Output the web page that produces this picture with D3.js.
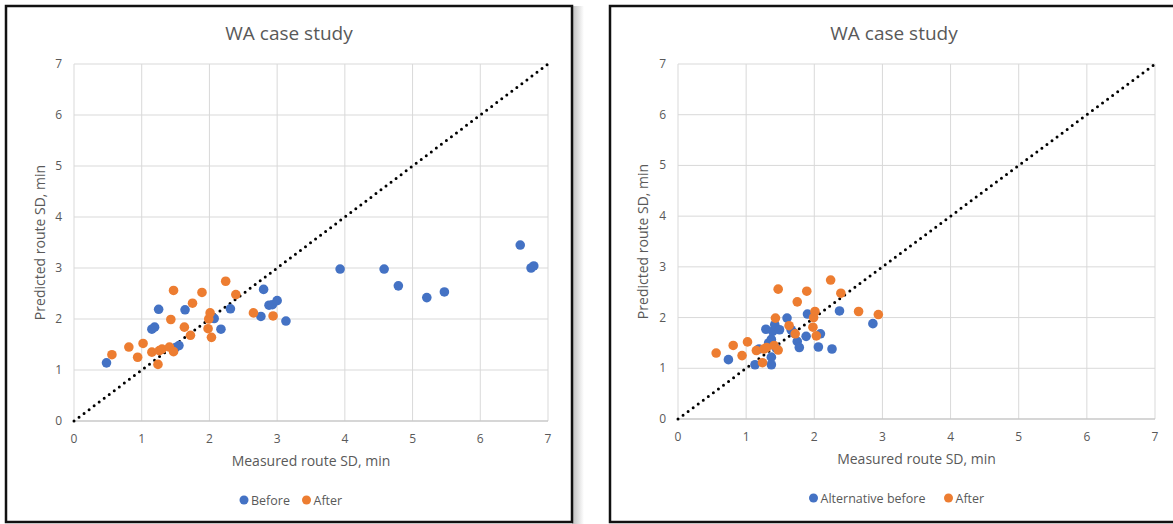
<!DOCTYPE html>
<html>
<head>
<meta charset="utf-8">
<script src="https://cdn.jsdelivr.net/npm/d3@7"></script>
<style>
  body { margin: 0; background: #fff; }
  text { font-family: "Open Sans", sans-serif; fill: #595959; }
</style>
</head>
<body>
<div id="chart"></div>
<script>
// shared "After" series
var afterX = [0.56, 0.81, 0.94, 1.02, 1.15, 1.24, 1.26, 1.30, 1.41, 1.47, 1.43, 1.47, 1.63, 1.72, 1.75, 1.89, 1.98, 1.99, 2.01, 2.03, 2.24, 2.39, 2.65, 2.94];
var afterY = [1.30, 1.45, 1.25, 1.52, 1.35, 1.11, 1.38, 1.41, 1.45, 1.36, 1.99, 2.56, 1.84, 1.68, 2.31, 2.52, 1.81, 2.00, 2.12, 1.64, 2.74, 2.48, 2.12, 2.06];

// left chart "Before"
var beforeX = [0.48, 1.15, 1.19, 1.25, 1.64, 1.50, 1.55, 2.07, 2.17, 2.31, 2.76, 2.80, 2.88, 2.93, 3.00, 3.13, 3.93, 4.58, 4.79, 5.21, 5.47, 6.59, 6.75, 6.79];
var beforeY = [1.14, 1.80, 1.84, 2.19, 2.18, 1.44, 1.48, 2.01, 1.80, 2.20, 2.05, 2.58, 2.27, 2.28, 2.36, 1.96, 2.98, 2.98, 2.65, 2.42, 2.53, 3.45, 3.00, 3.04];

// right chart "Alternative before"
var altX = [0.74, 1.13, 1.19, 1.29, 1.33, 1.37, 1.37, 1.37, 1.39, 1.42, 1.49, 1.44, 1.60, 1.66, 1.70, 1.75, 1.78, 1.88, 1.90, 2.06, 2.09, 2.26, 2.37, 2.86];
var altY = [1.17, 1.07, 1.38, 1.77, 1.50, 1.57, 1.22, 1.07, 1.73, 1.86, 1.76, 1.40, 1.99, 1.76, 1.70, 1.53, 1.41, 1.63, 2.07, 1.42, 1.68, 1.38, 2.13, 1.88];

var ticks = [0, 1, 2, 3, 4, 5, 6, 7];
var diagonal = [0, 7];
var title = "WA case study";
var xTitle = "Measured route SD, min";
var yTitle = "Predicted route SD, min";

var blue = "#4472C4", orange = "#ED7D31";

var svg = d3.select("#chart").append("svg")
    .attr("width", 1173)
    .attr("height", 524);

var defs = svg.append("defs");
var grad = defs.append("linearGradient").attr("id", "shadow");
grad.append("stop").attr("offset", "0%").attr("stop-color", "#bdbdbd");
grad.append("stop").attr("offset", "100%").attr("stop-color", "#fff");

function zip(xs, ys) {
  return xs.map(function(x, i) { return [x, ys[i]]; });
}

function drawPanel(p) {
  // frame
  if (p.shadow) {
    svg.append("rect").attr("x", p.box[2]).attr("y", p.box[1])
      .attr("width", 12).attr("height", p.box[3] - p.box[1] + 4)
      .attr("fill", "url(#shadow)");
  }
  svg.append("rect")
    .attr("x", p.box[0]).attr("y", p.box[1])
    .attr("width", p.box[2] - p.box[0]).attr("height", p.box[3] - p.box[1])
    .attr("fill", "#fff").attr("stroke", "#111").attr("stroke-width", 2.5);

  var x = d3.scaleLinear().domain([0, 7]).range([p.plot[0], p.plot[1]]);
  var y = d3.scaleLinear().domain([0, 7]).range([p.plot[2], p.plot[3]]);
  var g = svg.append("g");

  // grid
  g.selectAll(".vg").data(ticks).enter().append("line")
    .attr("x1", function(d) { return x(d); }).attr("x2", function(d) { return x(d); })
    .attr("y1", y(0)).attr("y2", y(7))
    .attr("stroke", "#d9d9d9").attr("stroke-width", 1);
  g.selectAll(".hg").data(ticks).enter().append("line")
    .attr("x1", x(0)).attr("x2", x(7))
    .attr("y1", function(d) { return y(d); }).attr("y2", function(d) { return y(d); })
    .attr("stroke", function(d) { return d === 0 ? "#c8c8c8" : "#d9d9d9"; })
    .attr("stroke-width", function(d) { return d === 0 ? 1.5 : 1; });

  // tick labels
  g.selectAll(".xt").data(ticks).enter().append("text")
    .attr("x", function(d) { return x(d); }).attr("y", y(0) + 22)
    .attr("text-anchor", "middle").attr("font-size", 12)
    .text(function(d) { return d; });
  g.selectAll(".yt").data(ticks).enter().append("text")
    .attr("x", x(0) - 12).attr("y", function(d) { return y(d) + 4; })
    .attr("text-anchor", "end").attr("font-size", 12)
    .text(function(d) { return d; });

  // titles
  svg.append("text").attr("x", p.titleX).attr("y", 40)
    .attr("text-anchor", "middle").attr("font-size", 19).text(title);
  svg.append("text").attr("x", (p.plot[0] + p.plot[1]) / 2).attr("y", y(0) + 45)
    .attr("text-anchor", "middle").attr("font-size", 14).text(xTitle);
  svg.append("text")
    .attr("transform", "translate(" + p.yTitleX + "," + (p.plot[2] + p.plot[3]) / 2 + ") rotate(-90)")
    .attr("text-anchor", "middle").attr("font-size", 14).text(yTitle);

  // 1:1 line
  g.append("line")
    .attr("x1", x(diagonal[0])).attr("y1", y(diagonal[0]))
    .attr("x2", x(diagonal[1])).attr("y2", y(diagonal[1]))
    .attr("stroke", "#000").attr("stroke-width", 3)
    .attr("stroke-linecap", "round").attr("stroke-dasharray", "0 6.3");

  // points
  p.series.forEach(function(s) {
    g.selectAll(null).data(zip(s.xs, s.ys)).enter().append("circle")
      .attr("cx", function(d) { return x(d[0]); })
      .attr("cy", function(d) { return y(d[1]); })
      .attr("r", 4.8).attr("fill", s.color);
  });

  // legend
  p.legend.forEach(function(l) {
    svg.append("circle").attr("cx", l.x).attr("cy", p.legendY).attr("r", 4.5).attr("fill", l.color);
    svg.append("text").attr("x", l.x + 7).attr("y", p.legendY + 4.5)
      .attr("font-size", 12.5).text(l.name);
  });
}

drawPanel({
  box: [6, 6, 572, 522], shadow: true,
  plot: [74, 548, 421, 64],
  titleX: 289, yTitleX: 45,
  series: [{ xs: beforeX, ys: beforeY, color: blue }, { xs: afterX, ys: afterY, color: orange }],
  legendY: 500,
  legend: [{ x: 244, color: blue, name: "Before" }, { x: 306.5, color: orange, name: "After" }]
});

drawPanel({
  box: [610, 6, 1182, 522], shadow: false,
  plot: [678, 1155, 419, 64],
  titleX: 894, yTitleX: 648,
  series: [{ xs: altX, ys: altY, color: blue }, { xs: afterX, ys: afterY, color: orange }],
  legendY: 498,
  legend: [{ x: 813.5, color: blue, name: "Alternative before" }, { x: 948.5, color: orange, name: "After" }]
});
</script>
</body>
</html>
